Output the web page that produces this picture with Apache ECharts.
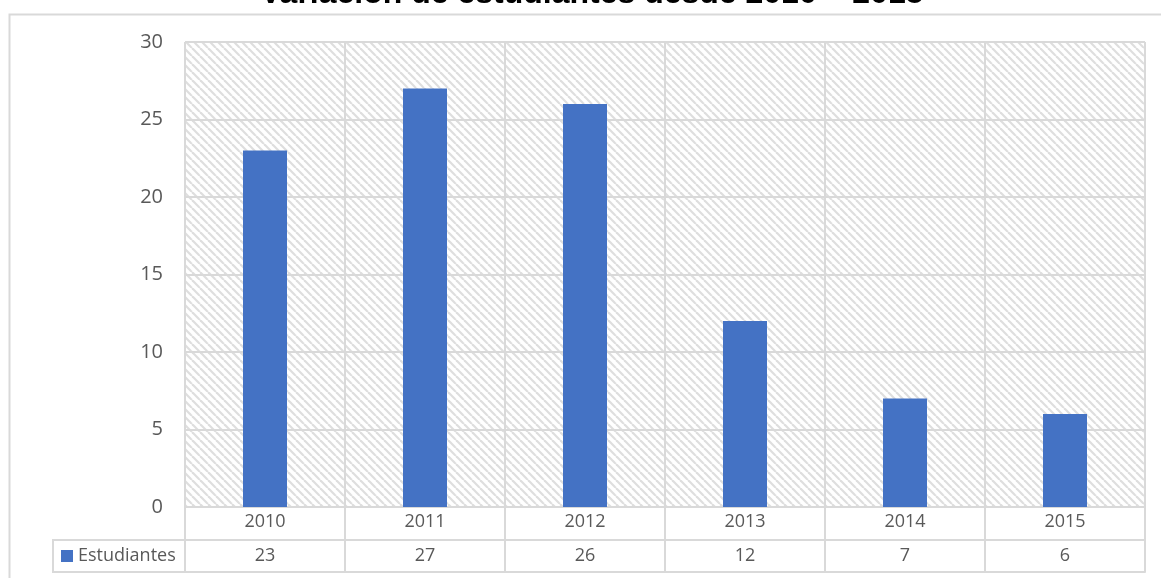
<!DOCTYPE html>
<html>
<head>
<meta charset="utf-8">
<script src="https://cdn.jsdelivr.net/npm/echarts@6/dist/echarts.min.js"></script>
<style>
  html, body { margin: 0; padding: 0; background: #fff; }
  #chart { width: 1161px; height: 578px; }
</style>
</head>
<body>
<div id="chart"></div>
<script>
  // datos
  const years = ['2010', '2011', '2012', '2013', '2014', '2015']
  const estudiantes = [23, 27, 26, 12, 7, 6]
  const yTicks = [0, 5, 10, 15, 20, 25, 30]

  const lineColor = '#d9d9d9'
  const textColor = '#595959'
  const font = '"Open Sans", sans-serif'

  // trama diagonal del area de trazado
  function makeHatch() {
    const c = document.createElement('canvas')
    c.width = 8
    c.height = 8
    const ctx = c.getContext('2d')
    ctx.fillStyle = '#fff'
    ctx.fillRect(0, 0, 8, 8)
    ctx.strokeStyle = '#dedede'
    ctx.lineWidth = 2.2
    ;[-8, 0, 8].forEach(k => {
      ctx.beginPath()
      ctx.moveTo(k, 0)
      ctx.lineTo(k + 8, 8)
      ctx.stroke()
    })
    return c
  }

  const chart = echarts.init(document.getElementById('chart'))

  chart.setOption({
    animation: false,
    title: {
      text: 'Variación de estudiantes desde 2010 – 2015',
      left: 260,
      top: -22,
      padding: 0,
      textStyle: {
        fontFamily: '"Liberation Sans", Arial, sans-serif',
        fontWeight: 'bold',
        fontSize: 32,
        color: '#000'
      }
    },
    graphic: [{
      type: 'rect',
      left: 7,
      top: 12,
      silent: true,
      shape: { width: 1170, height: 600 },
      style: { fill: 'none', stroke: lineColor, lineWidth: 2 }
    }],
    legend: {
      left: 53,
      top: 540,
      padding: [6, 8, 6, 8],
      borderColor: lineColor,
      borderWidth: 2,
      borderRadius: 0,
      itemWidth: 12,
      itemHeight: 12,
      icon: 'rect',
      selectedMode: false,
      textStyle: {
        fontFamily: font,
        fontSize: 18,
        color: textColor,
        lineHeight: 20,
        width: 99,
        overflow: 'none'
      },
      data: ['Estudiantes']
    },
    grid: {
      left: 185,
      right: 16,
      top: 42,
      bottom: 71,
      show: true,
      borderWidth: 0,
      backgroundColor: { image: makeHatch(), repeat: 'repeat' }
    },
    xAxis: [{
      type: 'category',
      data: years,
      axisLine: { show: true, lineStyle: { color: lineColor, width: 2 } },
      axisTick: { show: true, length: 65, lineStyle: { color: lineColor, width: 2 } },
      splitLine: { show: true, lineStyle: { color: lineColor, width: 2 } },
      axisLabel: { fontFamily: font, fontSize: 18, color: textColor, margin: 6 }
    }, {
      type: 'category',
      data: years,
      position: 'bottom',
      offset: 33,
      axisLine: { show: true, lineStyle: { color: lineColor, width: 2 } },
      axisTick: { show: false },
      axisLabel: {
        fontFamily: font,
        fontSize: 18,
        color: textColor,
        margin: 7,
        formatter: (v, i) => String(estudiantes[i])
      }
    }, {
      type: 'category',
      data: years,
      position: 'bottom',
      offset: 65,
      axisLine: { show: true, lineStyle: { color: lineColor, width: 2 } },
      axisTick: { show: false },
      axisLabel: { show: false }
    }],
    yAxis: {
      type: 'value',
      min: yTicks[0],
      max: yTicks[yTicks.length - 1],
      interval: yTicks[1] - yTicks[0],
      axisLine: { show: false },
      axisTick: { show: false },
      splitLine: { lineStyle: { color: lineColor, width: 2 } },
      axisLabel: { fontFamily: font, fontSize: 20, color: textColor, margin: 22 }
    },
    series: [{
      name: 'Estudiantes',
      type: 'bar',
      xAxisIndex: 0,
      data: estudiantes,
      barWidth: '27.5%',
      itemStyle: { color: '#4472c4' }
    }]
  })
</script>
</body>
</html>
